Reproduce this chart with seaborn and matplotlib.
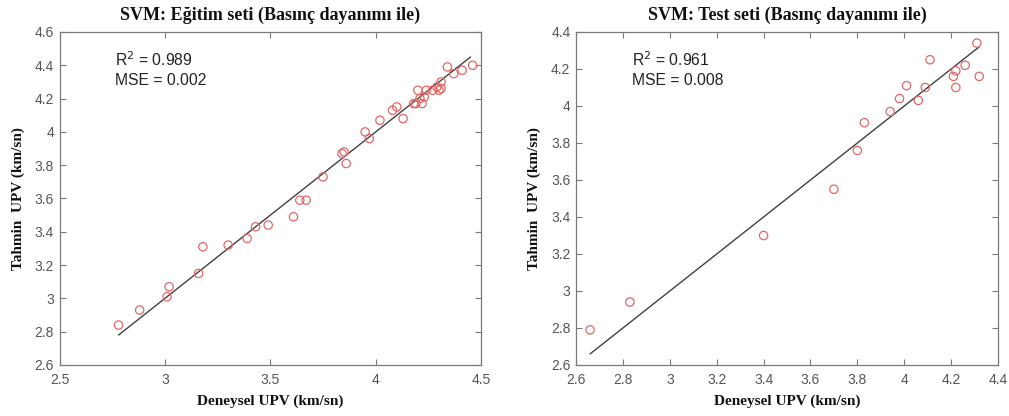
import numpy as np
import pandas as pd
import matplotlib
matplotlib.use("Agg")
import matplotlib.pyplot as plt
import seaborn as sns

# ---- data: training set ----
train_exp = [2.78, 2.88, 3.01, 3.02, 3.16, 3.18, 3.30, 3.39, 3.43, 3.49, 3.61, 3.64, 3.67,
             3.75, 3.84, 3.85, 3.86, 3.95, 3.97, 4.02, 4.08, 4.10, 4.13, 4.18, 4.19, 4.20,
             4.21, 4.22, 4.23, 4.24, 4.27, 4.29, 4.30, 4.31, 4.31, 4.34, 4.37, 4.41, 4.46]
train_pred = [2.84, 2.93, 3.01, 3.07, 3.15, 3.31, 3.32, 3.36, 3.43, 3.44, 3.49, 3.59, 3.59,
              3.73, 3.87, 3.88, 3.81, 4.00, 3.96, 4.07, 4.13, 4.15, 4.08, 4.17, 4.17, 4.25,
              4.20, 4.17, 4.21, 4.25, 4.25, 4.27, 4.25, 4.30, 4.26, 4.39, 4.35, 4.37, 4.40]
train_line_x = [2.78, 4.45]
train_line_y = [2.78, 4.45]

# ---- data: test set ----
test_exp = [2.66, 2.83, 3.40, 3.70, 3.80, 3.83, 3.94, 3.98, 4.01, 4.06, 4.09, 4.11,
            4.21, 4.22, 4.22, 4.26, 4.31, 4.32]
test_pred = [2.79, 2.94, 3.30, 3.55, 3.76, 3.91, 3.97, 4.04, 4.11, 4.03, 4.10, 4.25,
             4.16, 4.19, 4.10, 4.22, 4.34, 4.16]
test_line_x = [2.66, 4.32]
test_line_y = [2.66, 4.32]

titles = ["SVM: Eğitim seti (Basınç dayanımı ile)", "SVM: Test seti (Basınç dayanımı ile)"]
r2_texts = ["R$^2$ = 0.989", "R$^2$ = 0.961"]
mse_texts = ["MSE = 0.002", "MSE = 0.008"]
xlims = [(2.5, 4.5), (2.6, 4.4)]
ylims = [(2.6, 4.6), (2.6, 4.4)]
xticks = [[2.5, 3, 3.5, 4, 4.5], [2.6, 2.8, 3, 3.2, 3.4, 3.6, 3.8, 4, 4.2, 4.4]]
yticks = [[2.6, 2.8, 3, 3.2, 3.4, 3.6, 3.8, 4, 4.2, 4.4, 4.6],
          [2.6, 2.8, 3, 3.2, 3.4, 3.6, 3.8, 4, 4.2, 4.4]]

sns.set_style("white")
plt.rcParams['font.family'] = ['Liberation Sans', 'DejaVu Sans']

fig = plt.figure(figsize=(10.09, 4.16), dpi=100)
ax1 = fig.add_axes([0.059, 0.1226, 0.4178, 0.8005])
ax2 = fig.add_axes([0.5709, 0.1226, 0.4182, 0.8005])

datasets = [
    (train_exp, train_pred, train_line_x, train_line_y),
    (test_exp, test_pred, test_line_x, test_line_y),
]

spine_col = "#7a7a7a"
tick_col = "#555555"
serif = ['Liberation Serif', 'DejaVu Serif']

for i, (ax, (ex, pr, lx, ly)) in enumerate(zip([ax1, ax2], datasets)):
    df = pd.DataFrame({"exp": ex, "pred": pr})
    ldf = pd.DataFrame({"x": lx, "y": ly})
    sns.lineplot(data=ldf, x="x", y="y", ax=ax, color="#404040", linewidth=1.0,
                 zorder=2)
    sns.scatterplot(data=df, x="exp", y="pred", ax=ax, marker="o", s=36,
                    facecolors="none", edgecolor="#e06868", linewidth=0.9, zorder=3)
    ax.set_xlim(*xlims[i])
    ax.set_ylim(*ylims[i])
    ax.set_xticks(xticks[i])
    ax.set_yticks(yticks[i])
    ax.set_xticklabels([f"{t:g}" for t in xticks[i]])
    ax.set_yticklabels([f"{t:g}" for t in yticks[i]])
    ax.tick_params(direction="in", length=4, width=0.8, colors=spine_col,
                   labelcolor=tick_col, labelsize=10, top=True, right=True,
                   bottom=True, left=True)
    ax.tick_params(axis="x", pad=6)
    ax.tick_params(axis="y", pad=4)
    for sp in ax.spines.values():
        sp.set_color(spine_col)
        sp.set_linewidth(0.9)
    ax.set_title(titles[i], fontsize=13, fontweight="bold", family=serif,
                 color="#111111", pad=9)
    ax.set_xlabel("Deneysel UPV (km/sn)", fontsize=11, fontweight="bold",
                  family=serif, color="#111111", labelpad=5)
    ax.set_ylabel("Tahmin  UPV (km/sn)", fontsize=11, fontweight="bold",
                  family=serif, color="#111111", labelpad=7)
    ax.text(0.132, 0.916, r2_texts[i], transform=ax.transAxes, fontsize=11.3,
            va="center", ha="left", color="#222222")
    ax.text(0.132, 0.853, mse_texts[i], transform=ax.transAxes, fontsize=11.3,
            va="center", ha="left", color="#222222")
    ax.grid(False)

fig.savefig("out.png", dpi=100)
